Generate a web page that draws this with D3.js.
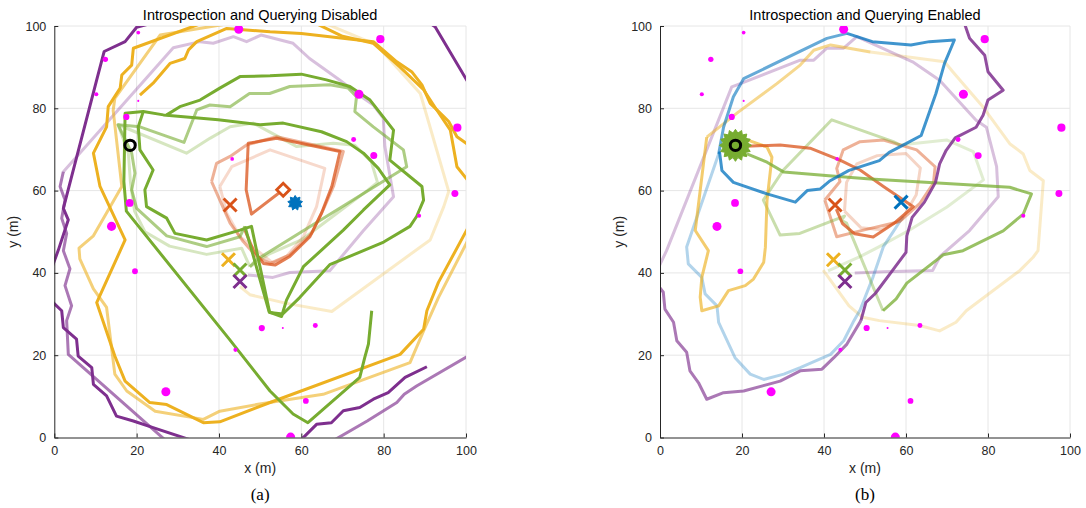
<!DOCTYPE html>
<html>
<head>
<meta charset="utf-8">
<script src="https://cdn.jsdelivr.net/npm/d3@7"></script>
<style>
body { margin: 0; background: #fff; }
text { font-family: "Liberation Sans", Arial, Helvetica, sans-serif; fill: #262626; }
</style>
</head>
<body>
<svg id="chart" width="1086" height="508"></svg>
<script>
// ---------- data (metres) ----------
var ticks = [0, 20, 40, 60, 80, 100];

// obstacles: x, y, radius (m) -- same field in both runs
var obstacles = [
  [20.4, 98.4, 0.45], [44.8, 99.2, 1.1], [12.4, 91.9, 0.65], [10.2, 83.4, 0.5], [20.4, 81.8, 0.25],
  [17.5, 77.9, 0.75], [43.2, 67.7, 0.45], [18.3, 57, 0.95], [13.9, 51.3, 1.1], [79.2, 96.8, 1],
  [74, 83.4, 1.1], [97.9, 75.3, 1], [72.7, 72.4, 0.6], [77.6, 68.5, 0.85], [97.3, 59.3, 0.85],
  [88.6, 53.9, 0.5], [19.6, 40.4, 0.7], [27.1, 11.1, 1.1], [44, 21.3, 0.5], [50.4, 26.6, 0.75],
  [55.5, 26.6, 0.2], [63.4, 27.2, 0.6], [61.1, 8.9, 0.7], [57.4, 0.1, 1.1]
];

var base = [18.4, 71];
var goalsDis = { red: [42.7, 56.5], yellow: [42.3, 43.2], green: [45.1, 40.7], purple: [45.1, 37.9] };
var goalsEn = { red: [42.7, 56.5], blue: [58.8, 57.2], yellow: [42.3, 43.2], green: [45.1, 40.7], purple: [45.1, 37.9] };
var redRobotDis = [55.6, 60.2];
var blueRobotDis = [58.5, 57];

// ----- run (a): disabled -----
var disPurple1 = [[23,100.5],[20,99.7],[17.2,96.2],[12.1,93.8],[10.3,86.9],[2.2,55.7],[3.4,52.9],[1,45.6],[-0.5,41.5]];
var disPurple2 = [[-0.5,33],[1.8,30.8],[2.2,26.7],[5.4,23.9],[5.8,19.8],[9.1,17],[9.5,12.9],[12.7,10.1],[15.1,5.2],[19.2,4],[24,2.4],[32.8,-0.5]];
var disPurple3 = [[91.5,100.5],[92.5,99.8],[100.5,86.3]];
var disPurple4 = [[60,-0.5],[63.7,3.2],[67.3,3.6],[70.2,6.5],[74.2,7.3],[77.5,9.3],[81.1,10.9],[85.2,14.6],[90.5,17.2]];
var disPurpleMid1 = [[26.8,-0.5],[3.4,20.2],[3,28.4],[4.2,32],[2.6,36.9],[3.8,41],[2.2,45.4],[3,49.6],[1.8,53.3],[2.6,57.7],[1.4,61],[2.2,64.6]];
var disPurpleMid2 = [[68.2,-0.5],[76,4],[83.2,8.5],[85,10.5],[88,12.5],[100.5,19.8]];
var disPurpleOld = [[2.2,64.6],[28.9,94.7],[35.4,96.2],[38.6,95.8],[43.5,97.4],[46.7,96.2],[50.2,97.8],[58,95.8],[62,92.1],[69.3,86.9],[74.6,82.8],[77.5,80.8],[79.9,77.6],[80.3,70.7],[82.4,58.5],[75,50.2],[66.9,40.5],[57.2,40.1],[53.1,38.9],[47,39.5]];

var disYellow1 = [[20.8,83.2],[24,86.1],[28.1,90.9],[31.7,92.1],[32.6,94.2],[34.6,96.2],[41.9,99.4],[52.4,98.6],[60,98.2],[77.5,96.2],[83.2,91.3],[86.8,88.9],[89.3,85.7],[91.3,81.2],[94.6,78],[95.8,76.8],[97.8,73.1],[100.5,71.2]];
var disYellow2 = [[63.8,100.5],[70,97.5],[77.5,95.8],[84,90],[89.7,84.5],[92.9,79.6],[96.2,74.7],[97.8,65.8],[100.5,62.4]];
var disYellow3 = [[35.4,100.5],[19.2,94.6],[18.8,90.5],[16.4,88.1],[16,84.9],[13.1,80.4],[12.7,75.5],[9.5,69.1],[11.1,61],[17.2,48],[10.3,32.8],[14.7,19.8],[17.2,13.7],[23.2,8.5],[27.3,8],[36.2,3.6],[40.2,3.8],[52.4,8.5],[84,20.2],[89.7,26.3],[90.5,30.8],[93.3,37.7],[100.5,51]];
var disYellowMid = [[41.9,100.5],[25.7,97.8],[14.7,82.4],[14.3,79.5],[16.4,61],[9.5,49],[6,46],[6.2,43.4],[9.5,36.1],[12.7,31.6],[14.7,15.4],[17.6,11.3],[24.5,6.4],[36.2,4.4],[40.2,6.4],[49.1,8],[65.3,10.5],[86.4,18.2],[89.7,25.9],[93.3,34],[100.5,48]];
var disYellowOld = [[66.1,100.5],[78.3,95.4],[88.9,83.6],[95.8,59.8],[94.6,56.1],[91.3,48],[89.6,46.8],[67.4,30.6],[56.4,32.6],[47.5,34.7],[45.1,36.7]];

var disRed = [[55.6,60.2],[47.9,54.3],[46.6,60.2],[47.1,71.5],[54,72.7],[69.4,69.5],[67.4,61],[64.9,54.5],[62.1,48.8],[57.2,44],[53.6,41.9],[50.8,42.3],[48.3,45.6],[46.3,50.4]];
var disRedMid = [[38.2,62.2],[39.4,66.6],[42.7,68.3],[46.7,71.1],[54,73.1],[70.2,69.5],[67.8,61],[65.3,55.3],[62.5,49.6],[57.2,44.4],[52.4,42.3],[49.1,44],[45.9,47.6],[42.7,52.1],[38.2,62.2]];
var disRedOld = [[40.2,61],[43.1,65.8],[52.4,69.9],[65.7,65.4],[63.7,56.1],[60.5,48.8],[56.4,44],[53.2,42.3],[45.1,48.8],[41.9,54.5],[40.2,61]];

var disGreen1 = [[46.3,51.3],[52.2,30.5],[55.2,29.4],[56.4,33.4],[60.5,41.5],[70.2,50.4],[75.1,55.3],[81.5,61.4],[78.7,65.4],[75.1,69.1],[71,71.9],[64.9,74.3],[55.6,76.4],[50,76],[39.8,77.2],[26.5,78.4],[21.6,79.2],[17.2,78.8],[16.9,62.2],[17.5,55],[42.5,23.9],[52.4,11.3],[58,5.7],[61.6,3.6],[74.2,14.6],[75.4,19.4],[76.3,22.7],[77.1,30.8]];
var disGreen2 = [[21.6,79.2],[20.4,75.5],[20.8,69.9],[24,65],[22,60.2],[22.4,56.1],[27.3,53.3],[29.3,49.6],[37,48],[45.1,50.4],[47.9,51.3],[52.3,30.4],[55.5,30],[59.6,34],[66.9,42],[71,43.7],[80,47.5],[86.4,51.3],[88,53.7],[89.7,57.7],[89.3,61],[81.5,67.4],[82.4,74.7],[76.7,82],[71.8,85.3],[66.1,86.9],[60,88.3],[52.4,87.9],[45.1,87.7],[40.2,84.9],[35.4,82],[30.5,80.4],[27.3,78.4]];
var disGreenMid = [[46.3,51.3],[45.1,48.8],[37,46.4],[27.3,49],[20,55.7],[18.8,60.2],[19.6,64.2],[18.8,69.1],[15.5,76],[20.8,75.5],[31.5,71.7],[34.6,79.6],[37.8,80.8],[42.7,80.4],[47.4,83.6],[52.3,83.6],[57.2,85.3],[66.9,85.7],[71.4,84.9],[73.4,82.8],[73,79.2],[77.5,75.5],[84.8,69.9],[85.6,65.8],[49.1,43.2],[47.5,41.5]];
var disGreenOld = [[47.5,41.5],[45.5,46],[37,44.5],[28,46.5],[22,50],[19.5,55],[18.5,62],[18,69],[15.5,76],[32.1,69.1],[37.8,72.7],[42.7,75.5],[48.3,76.4],[58.9,70.7],[67.8,71.5],[73,71],[77,67],[78.5,62],[76,60],[68,54],[60,48],[52,44.5],[47.5,41.5]];

// ----- run (b): enabled -----
var enBlueOld = [[59.3,53.7],[54.5,46.4],[52,39.1],[48.8,31],[47.3,28.4],[44.8,23.5],[41.6,20.2],[34.2,17],[30.2,15.4],[25.3,14.1],[22,15.4],[18.3,19.4],[14.3,28],[13.9,32],[11,34.9],[10.2,38.9],[6.9,42.2],[6.5,46.3],[9.8,55.9],[14.3,68.9]];
var enBlueMid = [[14.3,68.9],[15.5,75.4],[17.9,82.8],[20.4,87.2],[40.7,97],[45.6,98.2]];
var enBlue = [[45.6,98.2],[51.8,96.2],[61.2,95.4],[65.7,96.2],[71.8,96.6],[69.4,90.9],[67.3,83.6],[63.7,73.4],[60,71.4],[55.9,69.3],[53.5,67.3],[46.1,64.9],[41.5,62.4],[39.1,60.4],[35.9,60],[33,57.2],[26.1,59.2],[17.9,62],[15.1,64.9],[14.5,69.5]];

var enPurple = [[74.3,100.5],[75.5,97],[79.2,92.9],[80,88.9],[83.7,84.4],[80,82],[78.8,78.3],[77.1,75.4],[72,72.8],[69.8,69.8],[68.2,66.5],[67.2,62],[64.5,57.2],[61.5,53.5],[60.2,49],[60,45],[56.5,40.3],[52.5,35],[50.2,32.8],[49,28.4]];
var enPurpleMid = [[49,28.4],[45.6,22.7],[42.4,19.4],[39.5,16.6],[34.2,16.2],[29.3,13.7],[20.4,11.3],[15.5,10.9],[11.4,9.3],[9.4,13.3],[7.3,16.2],[6.5,20.7],[4.1,23.5],[3.3,28],[1.2,31.2],[0.8,35.3],[-0.5,37]];
var enPurpleOld = [[-0.5,41],[1.6,45.4],[17.5,85.2],[19.6,86],[34.2,91.7],[37.5,91.7],[40.7,94.6],[44.8,94.6],[48,97.4],[61.6,91.3],[68.2,86.8],[77.1,77.1],[79.6,75.4],[82.1,65.8],[82.5,58.5],[75.5,50.3],[68.3,44],[66.5,40.6],[54.5,40.3],[47.5,40]];

var enYellow = [[21.6,72.2],[26.1,70.6],[27.3,68.1],[26.1,57.6],[25.7,46.2],[25.3,42.6],[22.8,38.5],[20.8,36.9],[16.7,35.7],[14.3,32],[10.2,30.8],[9.8,34.1],[10.2,38.9],[11.8,45.4],[8.6,50.3],[11.4,73]];
var enYellowMid = [[11.4,73],[19,79],[28.5,86],[34.2,90.5],[37.5,94.1],[41.6,95.4],[51.3,93.7]];
var enYellowOld = [[51.3,93.7],[69.4,91.3],[71.4,88.9],[78.8,80.3],[85.3,71.4],[88.6,68.9],[90.2,64.9],[93.5,62.4],[92.2,45.4],[91,43.8],[87.8,40.6],[74.7,30.8],[72.2,28],[68.2,25.9],[63.3,27.2],[53.5,28.4],[49.4,29.2],[46.1,32],[39.8,40.7]];

var enRed = [[19.5,70.7],[29.3,71.1],[36.6,70.3],[43.9,67.4],[48.8,65],[54.5,61],[61.8,56.1],[57,52],[52,48.7],[47.5,49.5],[44.5,52],[43,55.5]];
var enRedMid = [[40.2,57.7],[43.1,48.8],[49.6,50.4],[58.5,52.5],[63.4,56.9],[66.7,61.8],[67.1,65.8],[62.6,69.9],[54.5,72.3],[48.8,71.9],[44.7,69.9],[43.1,65.4],[43.9,62.2],[40.2,57.7]];
var enRedOld = [[45,55],[45.5,62],[48,66.5],[53,68.5],[60,69],[63.5,65.5],[62.5,59],[59,53],[54,50.5],[49,51],[45,55]];

var enGreen = [[21.2,68.9],[26.1,66.9],[30.2,64.5],[41.2,63.6],[51.3,62.8],[85.3,60.8],[90.6,59.2],[88.6,54.3],[83.7,50.2],[73.9,45.4],[69.1,44.4],[60.2,37.5],[57.6,33.7],[54.4,30.8]];
var enGreenMid = [[54.4,30.8],[45.5,52.1],[44.2,52.8],[45,53.8],[34.1,49.6],[29.3,49.2],[25.2,57.7],[30.1,65],[41.9,77.2],[56.9,71.9],[58.5,71.1]];
var enGreenOld = [[58.5,71.1],[69.9,72.3],[76.4,69.5],[78.9,62.6],[70,56],[61,50.5],[53.5,46.4],[48.9,44],[41,40.5]];

// ---------- layout ----------
var colors = { blue: "#0072BD", red: "#D95319", yellow: "#EDB120", purple: "#7E2F8E", green: "#77AC30" };

var panels = [
  {
    key: "dis", left: 54.3, right: 466, title: "Introspection and Querying Disabled", tag: "(a)",
    tracks: [
      [disYellowOld, "yellow", 0.25], [disPurpleOld, "purple", 0.3], [disRedOld, "red", 0.22], [disGreenOld, "green", 0.3],
      [disYellowMid, "yellow", 0.6], [disPurpleMid1, "purple", 0.65], [disPurpleMid2, "purple", 0.65],
      [disRedMid, "red", 0.45], [disGreenMid, "green", 0.6],
      [disYellow1, "yellow", 1], [disYellow2, "yellow", 1], [disYellow3, "yellow", 1],
      [disPurple1, "purple", 1], [disPurple2, "purple", 1], [disPurple3, "purple", 1], [disPurple4, "purple", 1],
      [disRed, "red", 0.75], [disGreen2, "green", 1], [disGreen1, "green", 1]
    ],
    goals: goalsDis
  },
  {
    key: "en", left: 660, right: 1070, title: "Introspection and Querying Enabled", tag: "(b)",
    tracks: [
      [enYellowOld, "yellow", 0.25], [enPurpleOld, "purple", 0.3], [enRedOld, "red", 0.25], [enGreenOld, "green", 0.22],
      [enBlueOld, "blue", 0.3],
      [enYellowMid, "yellow", 0.5], [enPurpleMid, "purple", 0.65], [enRedMid, "red", 0.45], [enGreenMid, "green", 0.4],
      [enBlueMid, "blue", 0.6],
      [enYellow, "yellow", 0.65], [enRed, "red", 0.75], [enGreen, "green", 0.75], [enPurple, "purple", 0.85], [enBlue, "blue", 0.75]
    ],
    goals: goalsEn
  }
];

var plotTop = 26, plotBottom = 437.5;
var svg = d3.select("#chart");

panels.forEach(function(p) {
  var x = d3.scaleLinear().domain([0, 100]).range([p.left, p.right]);
  var y = d3.scaleLinear().domain([0, 100]).range([plotBottom, plotTop]);
  var g = svg.append("g").attr("class", "panel-" + p.key);

  // grid
  g.append("g").selectAll("line").data(ticks.slice(1)).enter().append("line")
    .attr("x1", function(d) { return x(d); }).attr("x2", function(d) { return x(d); })
    .attr("y1", plotBottom).attr("y2", plotTop)
    .attr("stroke", "#e6e6e6").attr("stroke-width", 1);
  g.append("g").selectAll("line").data(ticks.slice(1)).enter().append("line")
    .attr("y1", function(d) { return y(d); }).attr("y2", function(d) { return y(d); })
    .attr("x1", p.left).attr("x2", p.right)
    .attr("stroke", "#e6e6e6").attr("stroke-width", 1);

  // clip
  svg.append("clipPath").attr("id", "clip-" + p.key).append("rect")
    .attr("x", p.left).attr("y", plotTop).attr("width", p.right - p.left).attr("height", plotBottom - plotTop);
  var plot = g.append("g").attr("clip-path", "url(#clip-" + p.key + ")");

  var line = d3.line().x(function(d) { return x(d[0]); }).y(function(d) { return y(d[1]); });

  plot.selectAll("path.track").data(p.tracks).enter().append("path")
    .attr("class", "track")
    .attr("d", function(d) { return line(d[0]); })
    .attr("fill", "none")
    .attr("stroke", function(d) { return colors[d[1]]; })
    .attr("stroke-opacity", function(d) { return d[2]; })
    .attr("stroke-width", 3)
    .attr("stroke-linejoin", "round")
    .attr("stroke-linecap", "butt");

  // obstacles
  var k = x(1) - x(0);
  plot.selectAll("circle.obs").data(obstacles).enter().append("circle")
    .attr("cx", function(d) { return x(d[0]); })
    .attr("cy", function(d) { return y(d[1]); })
    .attr("r", function(d) { return Math.max(1, d[2] * k); })
    .attr("fill", "#FF00FF");

  // goals (x marks)
  var gl = Object.keys(p.goals).map(function(c) { return { c: c, p: p.goals[c] }; });
  var xs = plot.selectAll("g.goal").data(gl).enter().append("g")
    .attr("transform", function(d) { return "translate(" + x(d.p[0]) + "," + y(d.p[1]) + ")"; });
  xs.append("path").attr("d", "M-6.5,-6.5L6.5,6.5M-6.5,6.5L6.5,-6.5")
    .attr("stroke", function(d) { return colors[d.c]; })
    .attr("stroke-width", 3).attr("fill", "none");

  // gear-shaped blob helper
  function gear(r0, r1, n) {
    var pts = d3.range(n * 2).map(function(i) {
      var a = i / (n * 2) * 2 * Math.PI, r = i % 2 ? r0 : r1;
      return [a, r];
    });
    return d3.lineRadial().curve(d3.curveLinearClosed)(pts);
  }

  if (p.key === "dis") {
    plot.append("path")
      .attr("transform", "translate(" + x(blueRobotDis[0]) + "," + y(blueRobotDis[1]) + ")")
      .attr("d", gear(5, 7.5, 9)).attr("fill", colors.blue).attr("stroke", colors.blue).attr("stroke-width", 1);
    plot.append("path")
      .attr("transform", "translate(" + x(redRobotDis[0]) + "," + y(redRobotDis[1]) + ")")
      .attr("d", "M0,-6.5L6.5,0L0,6.5L-6.5,0Z")
      .attr("fill", "#fff").attr("stroke", colors.red).attr("stroke-width", 2.8);
  } else {
    plot.append("path")
      .attr("transform", "translate(" + x(base[0]) + "," + y(base[1]) + ")")
      .attr("d", gear(12.5, 16, 16)).attr("fill", colors.green).attr("stroke", colors.green).attr("stroke-width", 1);
  }

  plot.append("circle").attr("cx", x(base[0])).attr("cy", y(base[1])).attr("r", 5.2)
    .attr("fill", "none").attr("stroke", "#000").attr("stroke-width", 3);

  // axes
  var ax = g.append("g").attr("transform", "translate(0," + plotBottom + ")")
    .call(d3.axisBottom(x).tickValues(ticks).tickSizeInner(-4).tickSizeOuter(0).tickPadding(9));
  var ay = g.append("g").attr("transform", "translate(" + p.left + ",0)")
    .call(d3.axisLeft(y).tickValues(ticks).tickSizeInner(-4).tickSizeOuter(0).tickPadding(8));
  [ax, ay].forEach(function(a) {
    a.select(".domain").attr("stroke", "#262626");
    a.selectAll(".tick line").attr("stroke", "#262626");
    a.selectAll(".tick text").attr("font-size", 12.5).attr("fill", "#262626")
      .attr("font-family", "Liberation Sans, Arial, sans-serif");
  });

  var cx = (p.left + p.right) / 2;
  g.append("text").attr("x", cx).attr("y", 20).attr("text-anchor", "middle")
    .attr("font-size", 14.5).style("fill", "#000").text(p.title);
  g.append("text").attr("x", cx).attr("y", 473).attr("text-anchor", "middle")
    .attr("font-size", 14).text("x (m)");
  g.append("text").attr("transform", "translate(" + (p.left - 36) + "," + ((plotTop + plotBottom) / 2) + ") rotate(-90)")
    .attr("text-anchor", "middle").attr("font-size", 14).text("y (m)");
  g.append("text").attr("x", cx).attr("y", 500).attr("text-anchor", "middle")
    .attr("font-size", 17).style("font-family", "Liberation Serif, Times New Roman, serif").style("fill", "#000")
    .text(p.tag);
});
</script>
</body>
</html>
